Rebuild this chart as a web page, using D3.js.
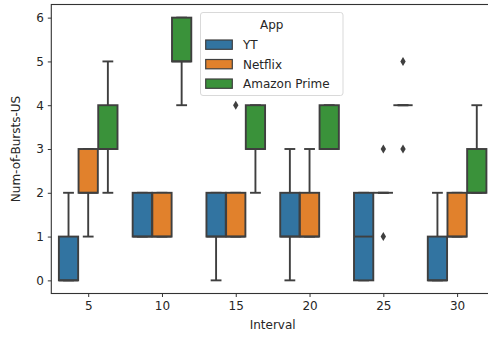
<!DOCTYPE html>
<html>
<head>
<meta charset="utf-8">
<script src="https://cdn.jsdelivr.net/npm/d3@7"></script>
<style>
  html, body { margin: 0; padding: 0; background: #fff; }
  svg { display: block; font-family: "DejaVu Sans", sans-serif; }
</style>
</head>
<body>
<svg id="chart" width="488" height="337"></svg>
<script>
// ---- data ----
const intervals = ["5", "10", "15", "20", "25", "30"];
const apps = ["YT", "Netflix", "Amazon Prime"];
const appColors = ["#3274a1", "#e1812c", "#3a923a"];
const yTicks = [0, 1, 2, 3, 4, 5, 6];
// per interval: [whiskerLow, q1, median, q3, whiskerHigh]
const ytStats = [[0,0,0,1,2],[1,1,1,2,2],[0,1,1,2,2],[0,1,1,2,3],[0,0,1,2,2],[0,0,0,1,2]];
const netflixStats = [[1,2,2,3,3],[1,1,1,2,2],[1,1,1,2,2],[1,1,1,2,3],[2,2,2,2,2],[1,1,1,2,2]];
const amazonStats = [[2,3,3,4,5],[4,5,5,6,6],[2,3,3,4,4],[3,3,3,4,4],[4,4,4,4,4],[2,2,2,3,4]];
const ytOutliers = [[],[],[],[],[],[]];
const netflixOutliers = [[],[],[4],[],[1,3],[]];
const amazonOutliers = [[],[],[],[],[3,5],[]];

const stats = [ytStats, netflixStats, amazonStats];
const outliers = [ytOutliers, netflixOutliers, amazonOutliers];

// ---- layout ----
const svg = d3.select("#chart");
const mLeft = 51.3, mRight = 494, mTop = 4.5, mBottom = 293.5;
const x = d3.scaleLinear().domain([-0.5, intervals.length - 0.5]).range([mLeft, mRight]);
const y = d3.scaleLinear().domain([-0.3, 6.3]).range([mBottom, mTop]);
const unit = x(1) - x(0);
const hueW = 0.8 / apps.length;
const boxW = hueW * 0.98 * unit;
const lineCol = "#3f3f3f";
const lw = 1.9;

const g = svg.append("g");
apps.forEach((app, ai) => {
  stats[ai].forEach((s, ci) => {
    const cx = x(ci + (ai - (apps.length - 1) / 2) * hueW);
    const [lo, q1, med, q3, hi] = s;
    // whiskers
    g.append("line").attr("x1", cx).attr("x2", cx).attr("y1", y(q3)).attr("y2", y(hi))
      .attr("stroke", lineCol).attr("stroke-width", lw);
    g.append("line").attr("x1", cx).attr("x2", cx).attr("y1", y(q1)).attr("y2", y(lo))
      .attr("stroke", lineCol).attr("stroke-width", lw);
    // caps
    [lo, hi].forEach(v => {
      g.append("line").attr("x1", cx - boxW * 0.28).attr("x2", cx + boxW * 0.28)
        .attr("y1", y(v)).attr("y2", y(v)).attr("stroke", lineCol).attr("stroke-width", lw);
    });
    // box
    g.append("rect").attr("x", cx - boxW / 2).attr("width", boxW)
      .attr("y", y(q3)).attr("height", Math.max(0, y(q1) - y(q3)))
      .attr("fill", appColors[ai]).attr("stroke", lineCol).attr("stroke-width", lw);
    // median
    g.append("line").attr("x1", cx - boxW / 2).attr("x2", cx + boxW / 2)
      .attr("y1", y(med)).attr("y2", y(med)).attr("stroke", lineCol).attr("stroke-width", lw);
    // outliers
    outliers[ai][ci].forEach(v => {
      const py = y(v);
      g.append("path")
        .attr("d", `M${cx},${py - 4.5}L${cx + 2.7},${py}L${cx},${py + 4.5}L${cx - 2.7},${py}Z`)
        .attr("fill", lineCol);
    });
  });
});

// ---- frame ----
svg.append("rect").attr("x", mLeft).attr("y", mTop).attr("width", mRight - mLeft).attr("height", mBottom - mTop)
  .attr("fill", "none").attr("stroke", "#333").attr("stroke-width", 1.1);

// ---- axes ----
const xAxis = svg.append("g").attr("transform", `translate(0,${mBottom})`)
  .call(d3.axisBottom(x).tickValues(d3.range(intervals.length)).tickFormat(i => intervals[i])
    .tickSize(3.5).tickPadding(4));
const yAxis = svg.append("g").attr("transform", `translate(${mLeft},0)`)
  .call(d3.axisLeft(y).tickValues(yTicks).tickFormat(d3.format("d")).tickSize(3.5).tickPadding(4));
[xAxis, yAxis].forEach(a => {
  a.select(".domain").remove();
  a.selectAll(".tick line").attr("stroke", "#333");
  a.selectAll(".tick text").attr("fill", "#262626").style("font-size", "12px")
    .style("font-family", "DejaVu Sans, sans-serif");
});

svg.append("text").attr("x", (mLeft + mRight) / 2).attr("y", 329).attr("text-anchor", "middle")
  .attr("fill", "#262626").style("font-size", "12px").text("Interval");
svg.append("text").attr("transform", `translate(20,${(mTop + mBottom) / 2}) rotate(-90)`)
  .attr("text-anchor", "middle").attr("fill", "#262626").style("font-size", "12px").text("Num-of-Bursts-US");

// ---- legend ----
const lg = svg.append("g");
lg.append("rect").attr("x", 200.5).attr("y", 12.5).attr("width", 142.5).attr("height", 83)
  .attr("rx", 2.5).attr("fill", "#fff").attr("fill-opacity", 0.85).attr("stroke", "#d9d9d9");
lg.append("text").attr("x", 271.7).attr("y", 28.5).attr("text-anchor", "middle")
  .attr("fill", "#262626").style("font-size", "12px").text("App");
apps.forEach((app, i) => {
  const ry = 40 + i * 19.5;
  lg.append("rect").attr("x", 205.7).attr("y", ry).attr("width", 26.6).attr("height", 9.3)
    .attr("fill", appColors[i]).attr("stroke", lineCol).attr("stroke-width", 1.2);
  lg.append("text").attr("x", 243).attr("y", ry + 9).attr("fill", "#262626")
    .style("font-size", "12px").text(app);
});
</script>
</body>
</html>
